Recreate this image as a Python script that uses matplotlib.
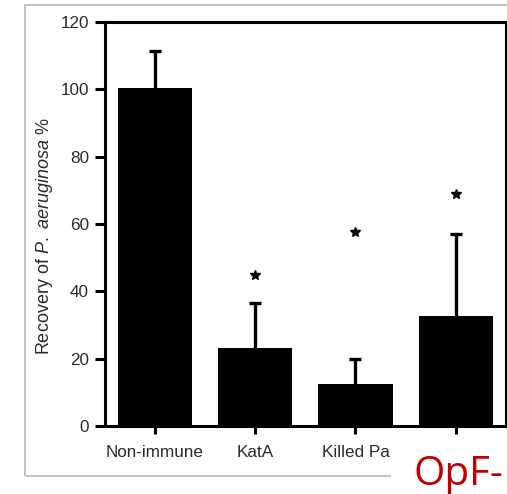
import matplotlib
matplotlib.use("Agg")
import matplotlib.pyplot as plt
from matplotlib.patches import Rectangle

plt.rcParams['font.family'] = ['Liberation Sans', 'DejaVu Sans']
plt.rcParams['mathtext.fontset'] = 'custom'
plt.rcParams['mathtext.rm'] = 'Liberation Sans'
plt.rcParams['mathtext.it'] = 'Liberation Sans:italic'

categories = ["Non-immune", "KatA", "Killed Pa", ""]
values = [100.3, 23.3, 12.5, 32.6]
err_upper = [11.2, 13.3, 7.4, 24.5]
star_y = [None, 45.0, 57.5, 68.8]
y_ticks = [0, 20, 40, 60, 80, 100, 120]
overlay_text = "OpF-"

W, H = 507, 494
fig = plt.figure(figsize=(W / 100, H / 100), dpi=100)
ax = fig.add_axes([105 / W, 1 - 426 / H, (505.7 - 105) / W, (426 - 22) / H])

x = list(range(len(values)))
ax.bar(x, values, width=0.74, color='black', zorder=2)
eb = ax.errorbar(x, values, yerr=[[0] * len(values), err_upper], fmt='none',
                 ecolor='black', elinewidth=2.4, capsize=4.2, capthick=2.4, zorder=3)
# hide the lower caps (they sit on the bar tops)
eb[1][0].set_visible(False)
for xi, sy in zip(x, star_y):
    if sy is not None:
        ax.plot(xi, sy, marker='*', color='black', markersize=7, zorder=4)

ax.set_xlim(-0.5, 3.5)
ax.set_ylim(0, 120)
ax.set_yticks(y_ticks)
ax.set_xticks(x)
ax.set_xticklabels(categories, fontsize=12.3, color='#2a2a2a')
ax.tick_params(axis='y', labelsize=12.3, labelcolor='#2a2a2a', length=7.5, width=2.2, pad=4)
ax.tick_params(axis='x', length=6, width=2.2, pad=8)
for s in ax.spines.values():
    s.set_linewidth(2.2)

fig.text(45 / W, 1 - 236 / H, r'Recovery of $\it{P.\ aeruginosa}$ %', rotation=90,
         ha='center', va='center', fontsize=13, color='#2a2a2a')

# gray frame around the figure content
fig.patches.append(Rectangle((25 / W, 1 - 476 / H), (520 - 25) / W, (476 - 5) / H,
                             transform=fig.transFigure, fill=False,
                             edgecolor='#c4c4c4', linewidth=1.5, zorder=0))
# white box with red overlay text
fig.patches.append(Rectangle((391 / W, 0), (W - 391) / W, (494 - 440) / H,
                             transform=fig.transFigure, facecolor='white',
                             edgecolor='none', zorder=5))
fig.text(413 / W, 1 - 485 / H, overlay_text, fontsize=29, color='#c00000',
         family=['Open Sans', 'DejaVu Sans'], ha='left', va='baseline', zorder=6)

fig.savefig('out.png', dpi=100)
